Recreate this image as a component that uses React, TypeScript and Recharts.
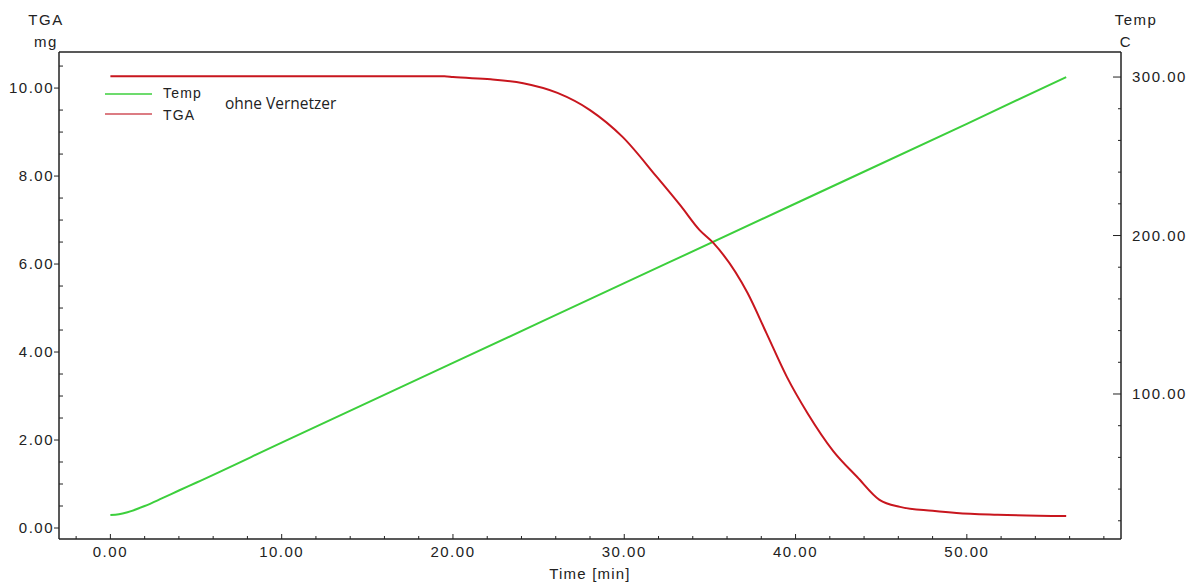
import React from 'react';
import { LineChart, Line, XAxis, YAxis, ReferenceLine } from 'recharts';

// TGA measurement (mg) against time (min)
const tgaTime = [0, 10, 19.5, 20, 22.2, 24.1, 26.1, 28, 29.9, 31.9, 33.3, 34.4, 35.2, 37.2, 38.3, 39.5, 40.7, 42.2, 43.6, 44.9, 46.1, 48, 49.4, 51.8, 55.8];
const tgaMass = [10.27, 10.27, 10.27, 10.25, 10.2, 10.11, 9.89, 9.5, 8.89, 7.98, 7.32, 6.77, 6.48, 5.34, 4.43, 3.43, 2.61, 1.75, 1.16, 0.64, 0.48, 0.39, 0.34, 0.3, 0.27];

// furnace temperature (C) against time (min)
const tempTime = [0, 0.5, 1, 2, 3, 4, 5, 10, 20, 30, 40, 50, 55.8];
const tempValue = [23.6, 24.1, 25.4, 29.3, 34.1, 39.1, 44, 69.3, 119.6, 169.9, 220.2, 270.5, 300];

const xTicks = [-2, 0, 2, 4, 6, 8, 10, 12, 14, 16, 18, 20, 22, 24, 26, 28, 30, 32, 34, 36, 38, 40, 42, 44, 46, 48, 50, 52, 54, 56, 58];
const tgaTicks = [0, 0.5, 1, 1.5, 2, 2.5, 3, 3.5, 4, 4.5, 5, 5.5, 6, 6.5, 7, 7.5, 8, 8.5, 9, 9.5, 10, 10.5];
const tempTicks = [20, 40, 60, 80, 100, 120, 140, 160, 180, 200, 220, 240, 260, 280, 300];

const tgaData = tgaTime.map((t, i) => ({ t, tga: tgaMass[i] }));
const tempData = tempTime.map((t, i) => ({ t, temp: tempValue[i] }));

const AXIS = '#222';
const FONT = { fontFamily: '"Liberation Sans", Arial, sans-serif', fontSize: 15, letterSpacing: 1.5, fill: '#222' };

const isMult = (v: number, m: number) => Math.abs(v / m - Math.round(v / m)) < 1e-6;

const LeftTick = (props: any) => {
  const { x, y, payload } = props;
  const major = isMult(payload.value, 2);
  if (!major) return <line x1={x} x2={x + 4} y1={y} y2={y} stroke={AXIS} />;
  return (
    <g>
      <line x1={x - 5} x2={x} y1={y} y2={y} stroke={AXIS} />
      <text x={x - 5} y={y + 5} textAnchor="end" {...FONT}>{payload.value.toFixed(2)}</text>
    </g>
  );
};

const RightTick = (props: any) => {
  const { x, y, payload } = props;
  const major = isMult(payload.value, 100);
  if (!major) return <line x1={x - 3} x2={x} y1={y} y2={y} stroke={AXIS} />;
  return (
    <g>
      <line x1={x - 8} x2={x} y1={y} y2={y} stroke={AXIS} />
      <text x={x + 11} y={y + 5} textAnchor="start" {...FONT}>{payload.value.toFixed(2)}</text>
    </g>
  );
};

const BottomTick = (props: any) => {
  const { x, y, payload } = props;
  const major = isMult(payload.value, 10);
  if (!major) return <line x1={x} x2={x} y1={y - 3} y2={y} stroke={AXIS} />;
  return (
    <g>
      <line x1={x} x2={x} y1={y - 5} y2={y} stroke={AXIS} />
      <text x={x} y={y + 18} textAnchor="middle" {...FONT}>{payload.value.toFixed(2)}</text>
    </g>
  );
};

export default function App() {
  return (
    <LineChart width={1183} height={579} margin={{ top: 44, right: 0, bottom: 0, left: 0 }}>
      <XAxis
        type="number"
        dataKey="t"
        domain={[-3, 59]}
        ticks={xTicks}
        interval={0}
        tick={<BottomTick />}
        tickLine={false}
        tickSize={0}
        tickMargin={0}
        height={48}
        axisLine={{ stroke: AXIS, strokeWidth: 1.5 }}
        allowDataOverflow
      />
      <YAxis
        yAxisId="left"
        type="number"
        domain={[-0.25, 10.82]}
        ticks={tgaTicks}
        interval={0}
        tick={<LeftTick />}
        tickLine={false}
        tickSize={0}
        tickMargin={0}
        width={51}
        axisLine={{ stroke: AXIS, strokeWidth: 1.5 }}
        allowDataOverflow
      />
      <YAxis
        yAxisId="right"
        orientation="right"
        type="number"
        domain={[8.5, 315.8]}
        ticks={tempTicks}
        interval={0}
        tick={<RightTick />}
        tickLine={false}
        tickSize={0}
        tickMargin={0}
        width={70}
        axisLine={{ stroke: AXIS, strokeWidth: 1.5 }}
        allowDataOverflow
      />
      {/* top edge of the frame */}
      <ReferenceLine yAxisId="left" y={10.82} stroke={AXIS} strokeWidth={1.5} ifOverflow="visible" />
      <Line
        yAxisId="right"
        data={tempData}
        dataKey="temp"
        type="monotone"
        stroke="#3ccf3c"
        strokeWidth={2}
        dot={false}
        isAnimationActive={false}
      />
      <Line
        yAxisId="left"
        data={tgaData}
        dataKey="tga"
        type="monotone"
        stroke="#c8161e"
        strokeWidth={2}
        dot={false}
        isAnimationActive={false}
      />

      {/* axis titles */}
      <text x={38} y={17} textAnchor="middle" {...FONT}>TGA</text>
      <text x={38} y={39} textAnchor="middle" {...FONT}>mg</text>
      <text x={1128} y={17} textAnchor="middle" {...FONT}>Temp</text>
      <text x={1118} y={39} textAnchor="middle" {...FONT}>C</text>
      <text x={582} y={571} textAnchor="middle" {...FONT} letterSpacing={1.2}>Time  [min]</text>

      {/* legend */}
      <line x1={97} x2={144} y1={86} y2={86} stroke="#3ccf3c" strokeWidth={1.5} />
      <text x={155} y={90} {...FONT} fontSize={14} letterSpacing={1.2}>Temp</text>
      <line x1={97} x2={144} y1={106} y2={106} stroke="#d0505a" strokeWidth={1.5} />
      <text x={155} y={112} {...FONT} fontSize={14} letterSpacing={1.2}>TGA</text>
      <text x={217} y={101} fontFamily='"Open Sans", sans-serif' fontSize={15.5} fill="#222">ohne Vernetzer</text>
    </LineChart>
  );
}
